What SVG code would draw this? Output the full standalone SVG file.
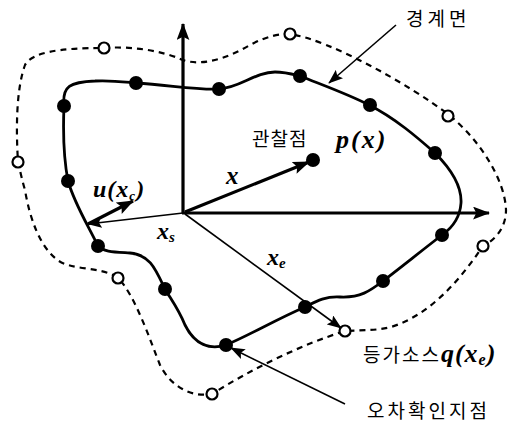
<svg xmlns="http://www.w3.org/2000/svg" width="522" height="423" viewBox="0 0 522 423">
<style>
.bd{fill:none;stroke:#000;stroke-width:2.8}
.ds{fill:none;stroke:#000;stroke-width:2.2;stroke-dasharray:6 5}
.fp{fill:#000}
.hp{fill:#fff;stroke:#000;stroke-width:2.2}
.ax{stroke:#000;stroke-width:3.2;fill:none}
.th{stroke:#000;stroke-width:1.6;fill:none}
.kr{font-family:"Noto Sans CJK KR",sans-serif;font-size:19px;fill:#000}
.mt{font-family:"Liberation Serif",serif;font-weight:bold;font-style:italic;fill:#000}
</style>
<defs>
<marker id="ah" viewBox="0 0 16 12" refX="15" refY="6" markerWidth="17" markerHeight="13" orient="auto" markerUnits="userSpaceOnUse"><path d="M0,0 L16,6 L0,12 L3,6 Z" fill="#000"/></marker>
<marker id="ahs" viewBox="0 0 16 12" refX="15" refY="6" markerWidth="15" markerHeight="11" orient="auto" markerUnits="userSpaceOnUse"><path d="M0,0 L16,6 L0,12 L3,6 Z" fill="#000"/></marker>
</defs>
<g id="connectors">
<line class="ax" x1="183" y1="213" x2="183" y2="24" marker-end="url(#ah)"/>
<line class="ax" x1="182" y1="213" x2="489" y2="213" marker-end="url(#ah)"/>
<line class="ax" x1="185" y1="212" x2="309" y2="162" marker-end="url(#ah)"/>
<line class="th" x1="183" y1="213" x2="88" y2="224" marker-end="url(#ahs)"/>
<line class="ax" x1="88" y1="224" x2="133" y2="201" marker-end="url(#ah)"/>
<line class="th" x1="185" y1="214" x2="341" y2="328" marker-end="url(#ahs)"/>
<line class="th" x1="396" y1="25" x2="329" y2="83" marker-end="url(#ahs)"/>
<line class="th" x1="345" y1="404" x2="231" y2="348" marker-end="url(#ahs)"/>
</g>
<g id="boundary">
<path class="bd" d="M64,106 C62,86 70,82 95,81 C110,80 125,82 136,83 C170,85 195,90 219,89 C240,88 255,72 275,72 C285,72 292,74 300,76 C325,86 350,95 369,105 C395,118 418,138 435,153 C450,168 462,185 461,203 C460,218 452,228 442,235 C420,252 400,268 383,281 C370,291 360,298 340,297 C325,296 315,302 305,307 C275,320 250,335 226,345 C210,350 195,345 185,325 C178,308 170,298 165,289 C155,268 150,255 130,253 C115,252 103,252 98,246 C88,225 75,205 68,181 C63,155 63,130 64,106 Z"/>
</g>
<g id="outer">
<path class="ds" d="M104,48 C130,46 160,50 183,60 C200,66 225,60 250,45 C265,37 280,33 290,34 C330,40 410,85 449,115 C480,140 505,180 506,210 C506,228 495,240 483,246 C460,280 430,315 391,327 C375,331 360,330 345,331 C300,345 250,370 212,394 C190,398 170,385 160,365 C150,340 135,295 118,278 C100,265 70,272 55,258 C40,245 30,220 25,190 C22,180 20,170 18,162 C16,130 16,90 25,65 C32,52 60,48 104,48 Z"/>
</g>
<g id="checkpoints">
<circle class="fp" cx="64" cy="106" r="7"/>
<circle class="fp" cx="136" cy="83" r="7"/>
<circle class="fp" cx="219" cy="89" r="7"/>
<circle class="fp" cx="300" cy="76" r="7"/>
<circle class="fp" cx="370" cy="105" r="7"/>
<circle class="fp" cx="435" cy="153" r="7"/>
<circle class="fp" cx="442" cy="235" r="7"/>
<circle class="fp" cx="383" cy="281" r="7"/>
<circle class="fp" cx="305" cy="307" r="7"/>
<circle class="fp" cx="226" cy="345" r="7"/>
<circle class="fp" cx="165" cy="289" r="7"/>
<circle class="fp" cx="98" cy="246" r="7"/>
<circle class="fp" cx="68" cy="181" r="7"/>
</g>
<g id="sources">
<circle class="hp" cx="104" cy="48" r="5.5"/>
<circle class="hp" cx="290" cy="34" r="5.5"/>
<circle class="hp" cx="448" cy="116" r="5.5"/>
<circle class="hp" cx="483" cy="246" r="5.5"/>
<circle class="hp" cx="345" cy="331" r="5.5"/>
<circle class="hp" cx="212" cy="394" r="5.5"/>
<circle class="hp" cx="118" cy="278" r="5.5"/>
<circle class="hp" cx="18" cy="162" r="5.5"/>
</g>
<g id="observation">
<circle class="fp" cx="313" cy="160" r="7"/>
<text class="kr" x="252" y="146" letter-spacing="1">관찰점</text>
<text class="mt" x="336" y="148" font-size="26" letter-spacing="2">p(x)</text>
</g>
<g id="labels">
<text class="kr" x="406" y="26" font-size="19" letter-spacing="4">경계면</text>
<text class="mt" x="226" y="184" font-size="25">x</text>
<text class="mt" x="93" y="197" font-size="24" letter-spacing="1">u(x<tspan font-size="13" dy="3">c</tspan><tspan dy="-3">)</tspan></text>
<text class="mt" x="157" y="239" font-size="24">x<tspan font-size="15" dy="3">s</tspan></text>
<text class="mt" x="267" y="265" font-size="24">x<tspan font-size="15" dy="3">e</tspan></text>
<text class="kr" x="363" y="362" font-size="20" letter-spacing="2">등가소스<tspan class="mt" font-size="26" letter-spacing="1">q(x<tspan font-size="16" dy="3">e</tspan><tspan dy="-3">)</tspan></tspan></text>
<text class="kr" x="367" y="418" font-size="19" letter-spacing="3">오차확인지점</text>
</g>
</svg>
